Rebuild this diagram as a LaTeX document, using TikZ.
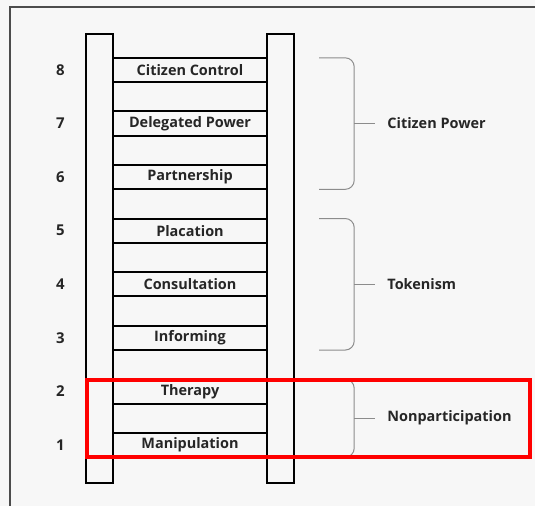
\documentclass[tikz,border=0pt]{standalone}
\usepackage{fontspec}
\setsansfont{Open Sans}
\usetikzlibrary{positioning, calc}

\begin{document}
\begin{tikzpicture}[
    x=1bp, y=-1bp,
    node distance=12bp,
    rail/.style={draw, line width=2.2bp},
    rung/.style={minimum width=154bp, minimum height=24bp, inner sep=0pt, text=black!85,
        font=\sffamily\bfseries\fontsize{14.5}{16}\selectfont},
    num/.style={inner sep=0pt, text=black!85, font=\sffamily\bfseries\fontsize{15}{17}\selectfont},
    group/.style={inner sep=0pt, text=black!85, font=\sffamily\bfseries\fontsize{14.5}{16}\selectfont},
    brace/.style={draw=black!45, line width=1bp, rounded corners=9bp}
]
    % page and frame
    \fill[black!3] (0,0) rectangle (535,506);
    \useasboundingbox (0,0) rectangle (535,506);
    \draw[black!70, line width=1.5bp] (10,506) -- (10,7) -- (535,7);

    % the two rails
    \draw[rail] (86,34) rectangle (113,483);
    \draw[rail] (267,34) rectangle (294,483);

    % rungs, one per level
    \foreach \i/\txt in {1/Manipulation, 2/Therapy, 3/Informing, 4/Consultation,
                         5/Placation, 6/Partnership, 7/Delegated Power, 8/Citizen Control} {
        \node[rung] (r\i) at (190, {445-(\i-1)*53.57}) {\txt};
        \draw[line width=2bp] (r\i.north west) -- (r\i.north east)
                              (r\i.south west) -- (r\i.south east);
        \node[num, left=48bp of r\i] (n\i) {\i};
    }

    % braces and group names
    \foreach \top/\bot/\name/\txt in {r8/r6/cp/Citizen Power, r5/r3/tk/Tokenism,
                                     r2/r1/np/Nonparticipation} {
        \coordinate (\name1) at ($(\top.north east)+(52,0)$);
        \coordinate (\name2) at ($(\bot.south east)+(52,0)$);
        \draw[brace] (\name1) -- ++(35,0) |- (\name2);
        \draw[brace] ($(\name1)!0.5!(\name2)+(35,0)$) -- ++(21,0) coordinate (\name t);
        \node[group, right=of \name t] (\name) {\txt};
    }

    % highlight
    \draw[red, line width=3.5bp] ($(r2.north west)+(-26,1)$) rectangle ($(r1.south east)+(263,0)$);
\end{tikzpicture}
\end{document}
